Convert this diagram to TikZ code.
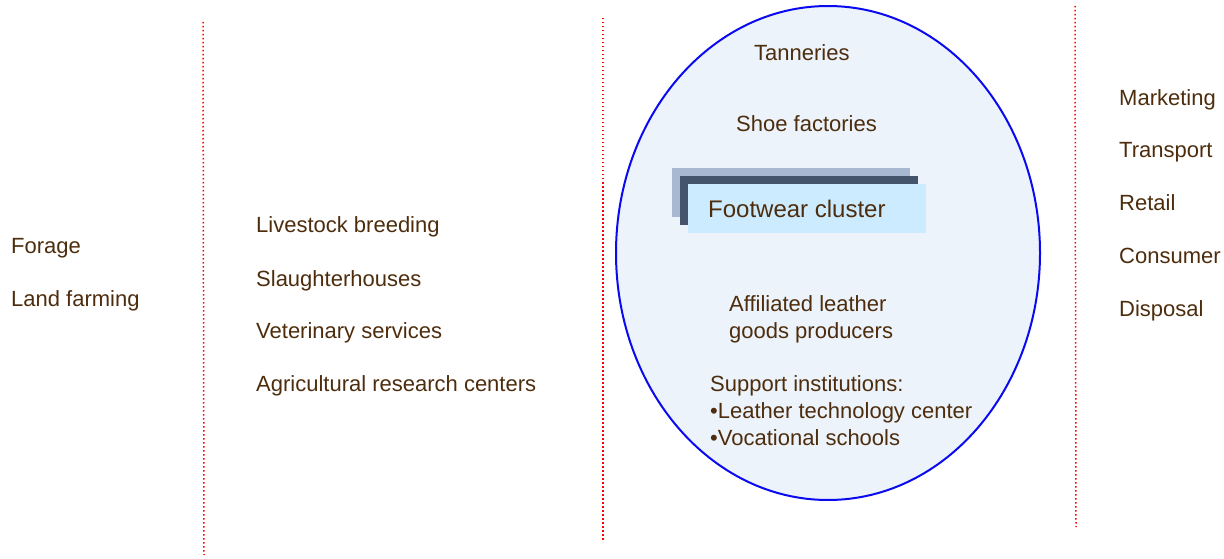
\documentclass[tikz,border=0pt]{standalone}
\usepackage{fontspec}
\usetikzlibrary{shapes.geometric}
\setmainfont{Liberation Sans}
\definecolor{txt}{RGB}{77,45,13}
\definecolor{ellfill}{RGB}{236,243,250}
\definecolor{ellline}{RGB}{10,10,240}
\definecolor{boxback}{RGB}{168,184,208}
\definecolor{boxmid}{RGB}{68,84,106}
\definecolor{boxfront}{RGB}{204,235,255}
\begin{document}
\begin{tikzpicture}[x=1pt,y=-1pt,
  lbl/.style={anchor=base west,inner sep=0pt,text=txt,font=\fontsize{22}{26}\selectfont},
  sep/.style={draw=red,line width=1.5pt,dash pattern=on 1.5pt off 2.5pt}]
\useasboundingbox (0,0) rectangle (1224,559);
% separators
\coordinate (s1a) at (203,22); \coordinate (s1b) at (204,555);
\coordinate (s2a) at (603,18); \coordinate (s2b) at (603,540);
\coordinate (s3a) at (1075,6); \coordinate (s3b) at (1076,527);
\draw[sep] (s1a) -- (s1b);
\draw[sep] (s2a) -- (s2b);
\draw[sep] (s3a) -- (s3b);
% ellipse
\node[draw=ellline,fill=ellfill,line width=2pt,ellipse,minimum width=424pt,minimum height=494pt,inner sep=0pt] (ell) at (828,253) {};
% footwear cluster boxes
\fill[boxback] (672,168) rectangle (910,217);
\fill[boxmid] (680,176) rectangle (918,225);
\node[fill=boxfront,anchor=north west,minimum width=238pt,minimum height=49pt,inner sep=0pt] (fc) at (688,184) {};
\node[anchor=base west,inner sep=0pt,text=txt,font=\fontsize{24}{28}\selectfont] (fct) at (708,217) {Footwear cluster};
% left column
\node[lbl] (forage) at (11,253) {Forage};
\node[lbl] (land) at (11,306) {Land farming};
% second column
\node[lbl] (live) at (256,233) {Livestock breeding};
\node[lbl] (slau) at (256,286) {Slaughterhouses};
\node[lbl] (vet) at (256,338) {Veterinary services};
\node[lbl] (agri) at (256,391) {Agricultural research centers};
% cluster
\node[lbl] (tan) at (754,61) {Tanneries};
\node[lbl] (shoe) at (736,132) {Shoe factories};
\node[lbl] (aff1) at (729,311) {Affiliated leather};
\node[lbl] (aff2) at (729,338) {goods producers};
\node[lbl] (sup1) at (710,391) {Support institutions:};
\node[lbl] (sup2) at (710,418) {•Leather technology center};
\node[lbl] (sup3) at (710,445) {•Vocational schools};
% right column
\node[lbl] (mkt) at (1119,106) {Marketing};
\node[lbl] (trn) at (1119,158) {Transport};
\node[lbl] (ret) at (1119,211) {Retail};
\node[lbl] (con) at (1119,263) {Consumer};
\node[lbl] (dis) at (1119,316) {Disposal};
\end{tikzpicture}
\end{document}
